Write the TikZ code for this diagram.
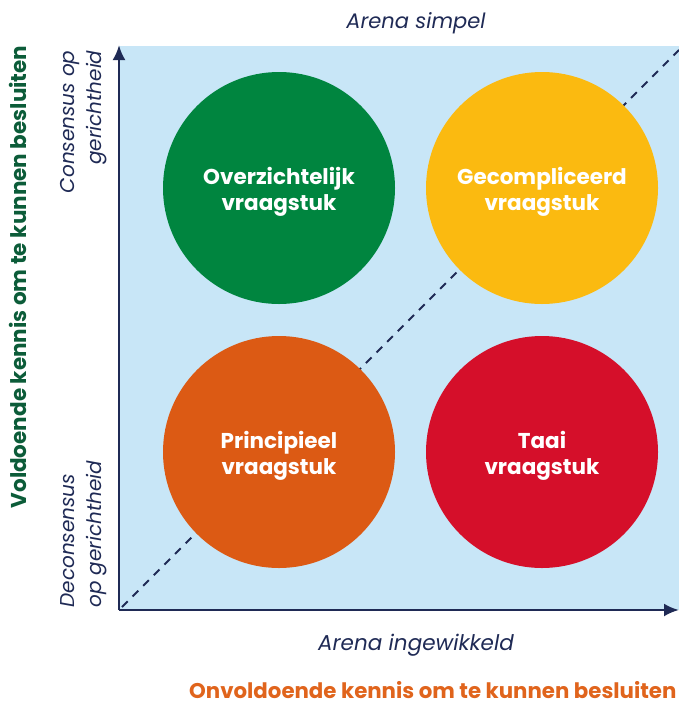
\documentclass[tikz,border=0pt]{standalone}
\usepackage{fontspec}
\setmainfont{Poppins}
\usepackage{xcolor}
\usepackage{tikz}
\usetikzlibrary{arrows.meta}

\definecolor{arenablauw}{HTML}{C8E6F7}
\definecolor{asblauw}{HTML}{1F2A55}
\definecolor{groen}{HTML}{00853F}
\definecolor{geel}{HTML}{FBBA10}
\definecolor{oranje}{HTML}{DC5A14}
\definecolor{rood}{HTML}{D50F2A}
\definecolor{kennisgroen}{HTML}{0C5C39}
\definecolor{kennisoranje}{HTML}{E0641C}

\begin{document}
\begin{tikzpicture}[x=1pt,y=-1pt,>=Latex,
    vraag/.style={circle,minimum size=232pt,inner sep=0pt},
    vraagtekst/.style={text=white,align=center,font=\fontsize{21.5}{26}\selectfont\bfseries},
    as/.style={line width=2.6pt,asblauw},
    aslabel/.style={text=asblauw,font=\fontsize{21}{27}\selectfont\itshape}]
      \useasboundingbox (0,0) rectangle (679,707);
      % veld en assen
      \fill[arenablauw] (119,46) rectangle (679,610);
      \coordinate (O) at (119,610);
      \coordinate (Ytop) at (119,45);
      \coordinate (Xend) at (679,610);
      \draw[asblauw,line width=2pt,dash pattern=on 8pt off 7pt] (122,607) -- (679,50);
      \draw[as,-{Latex[length=15pt,width=13pt]}] (O) -- (Ytop);
      \draw[as,-{Latex[length=15pt,width=13pt]}] (O) -- (Xend);
      % de vier vraagstukken
      \node[vraag,fill=groen] (overzichtelijk) at (279,188) {};
      \node[vraag,fill=geel] (gecompliceerd) at (542,188) {};
      \node[vraag,fill=oranje] (principieel) at (279,452) {};
      \node[vraag,fill=rood] (taai) at (542,452) {};
      \node[vraagtekst] at ([yshift=-4pt]overzichtelijk.center) {Overzichtelijk\\vraagstuk};
      \node[vraagtekst] at ([yshift=-4pt]gecompliceerd.center) {Gecompliceerd\\vraagstuk};
      \node[vraagtekst] at ([yshift=-4pt]principieel.center) {Principieel\\vraagstuk};
      \node[vraagtekst] at ([yshift=-4pt]taai.center) {Taai\\vraagstuk};
      % teksten langs de assen
      \node[aslabel] (simpel) at (416,23) {Arena simpel};
      \node[aslabel,font=\fontsize{21.5}{27}\selectfont\itshape] (ingewikkeld) at (416,645) {Arena ingewikkeld};
      \node[aslabel,font=\fontsize{20}{27}\selectfont\itshape,rotate=90,anchor=east,align=right] (consensus) at (84,47) {Consensus op\\gerichtheid};
      \node[aslabel,font=\fontsize{20}{27}\selectfont\itshape,rotate=90,anchor=west,align=left] (deconsensus) at (84,611) {Deconsensus\\op gerichtheid};
      \node[rotate=90,text=kennisgroen,font=\fontsize{21.5}{22}\selectfont\bfseries] (voldoende) at (18,277) {Voldoende kennis om te kunnen besluiten};
      \node[anchor=base west,inner sep=0pt,text=kennisoranje,font=\fontsize{21.3}{22}\selectfont\bfseries] (onvoldoende) at (189,698) {Onvoldoende kennis om te kunnen besluiten};
    \end{tikzpicture}
\end{document}
